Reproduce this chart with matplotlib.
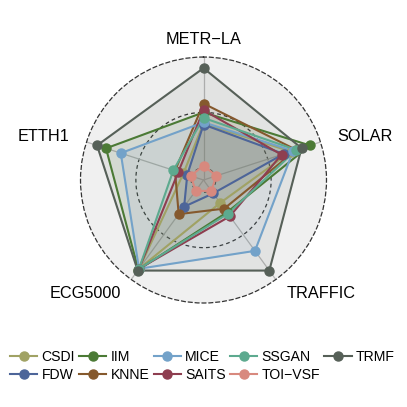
import numpy as np
import matplotlib
matplotlib.use("Agg")
import matplotlib.pyplot as plt
from matplotlib.lines import Line2D

plt.rcParams['font.family'] = ['Liberation Sans', 'DejaVu Sans']

categories = ["METR\u2212LA", "SOLAR", "TRAFFIC", "ECG5000", "ETTH1"]
methods = ["CSDI", "FDW", "IIM", "KNNE", "MICE", "SAITS", "SSGAN", "TOI\u2212VSF", "TRMF"]
CSDI = [0.40, 0.72, 0.145, 0.88, 0.08]
FDW = [0.39, 0.65, 0.038, 0.187, 0.043]
IIM = [0.50, 0.90, 0.25, 0.89, 0.815]
KNNE = [0.58, 0.77, 0.208, 0.27, 0.16]
MICE = [0.41, 0.74, 0.68, 0.88, 0.675]
SAITS = [0.52, 0.63, 0.294, 0.88, 0.128]
SSGAN = [0.45, 0.77, 0.265, 0.88, 0.175]
TOI_VSF = [0.02, 0.01, 0.01, 0.01, 0.01]
TRMF = [0.90, 0.82, 0.90, 0.90, 0.90]
values = [CSDI, FDW, IIM, KNNE, MICE, SAITS, SSGAN, TOI_VSF, TRMF]
colors = ["#A0A264", "#4D6599", "#4B7A35", "#85592D", "#73A2C9",
          "#8E3E50", "#5DAA8F", "#D8897E", "#566058"]

grid_min, grid_mid, grid_max = 0.0, 0.5, 1.0
centre = grid_min - (grid_max - grid_min) / 9.0

fig = plt.figure(figsize=(4.07, 4.07), dpi=100)
ax = fig.add_axes([0.1978, 0.2555, 0.6044, 0.6044], projection='polar')
ax.set_theta_offset(np.pi / 2)
ax.set_theta_direction(-1)
ax.set_ylim(centre, grid_max)

n = len(categories)
angles = np.arange(n) * 2 * np.pi / n

ax.set_facecolor('#F0F0F0')
ax.set_yticks([])
ax.set_xticks(angles)
ax.set_xticklabels([])
ax.tick_params(axis='x', length=0)
ax.xaxis.grid(True, color='#B5B5B5', linewidth=0.9)
ax.yaxis.grid(False)
ax.spines['polar'].set_linestyle((0, (3, 2.5)))
ax.spines['polar'].set_color('#333333')
ax.spines['polar'].set_linewidth(0.9)

th = np.linspace(0, 2 * np.pi, 400)
for g in (grid_min, grid_mid):
    ax.plot(th, np.full_like(th, g), color='#333333', lw=0.9,
            ls=(0, (3, 2.5)), zorder=1)

ang_c = np.append(angles, angles[0])
for name, vals, c in zip(methods, values, colors):
    v = np.append(vals, vals[0])
    ax.fill(ang_c, v, color=c, alpha=0.09, zorder=2)
    ax.plot(ang_c, v, color=c, lw=1.5, zorder=3)
    ax.plot(angles, vals, 'o', color=c, ms=6.5, zorder=4, linestyle='none')

lab_r = 1.16
aligns = [('center', 'center'), ('left', 'center'), ('left', 'center'),
          ('right', 'center'), ('right', 'center')]
for a, lab, (ha, va) in zip(angles, categories, aligns):
    ax.text(a, lab_r, lab, ha=ha, va=va, fontsize=11.7, color='black',
            clip_on=False)

handles = [Line2D([0], [0], color=c, lw=1.5, marker='o', ms=6.5)
           for c in colors]
fig.legend(handles, methods, loc='center', bbox_to_anchor=(0.497, 0.1),
           ncol=5, frameon=False, fontsize=10.1, handlelength=1.95,
           handletextpad=0.3, columnspacing=0.3, labelspacing=0.3,
           borderpad=0.2)

fig.savefig('out.png', dpi=100, facecolor='white')
